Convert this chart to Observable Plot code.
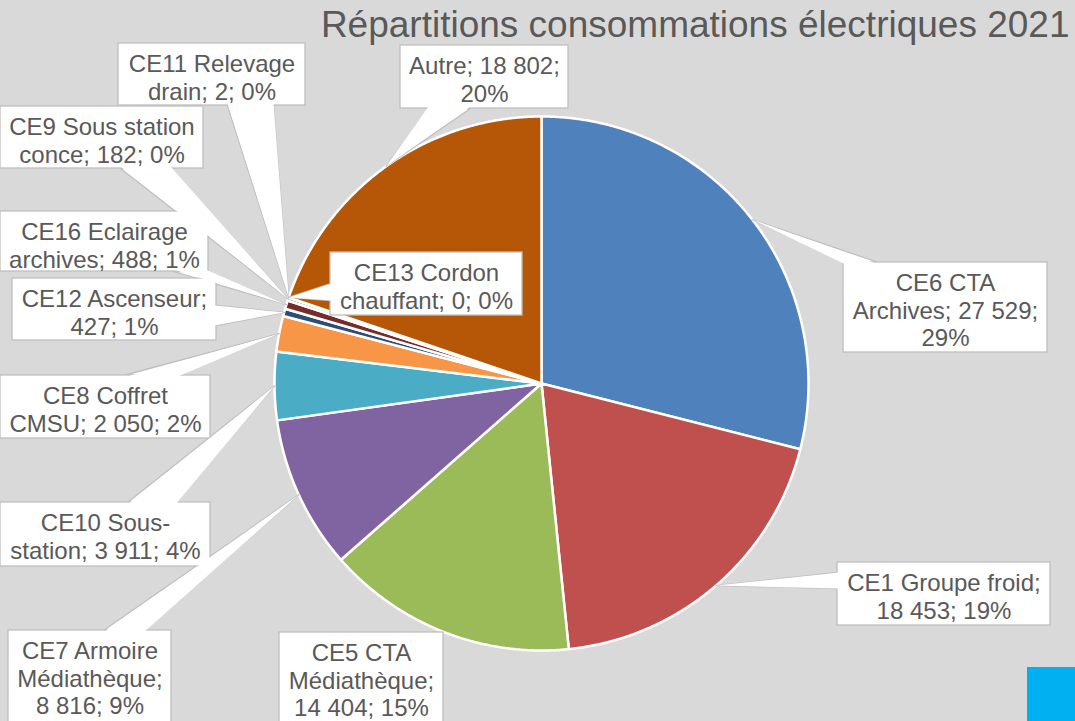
<!DOCTYPE html>
<html>
<head>
<meta charset="utf-8">
<script src="https://cdn.jsdelivr.net/npm/d3@7"></script>
<script src="https://cdn.jsdelivr.net/npm/@observablehq/plot@0.6"></script>
<style>
  html, body { margin: 0; padding: 0; background: #D9D9D9; overflow: hidden; }
  #wrap { position: relative; width: 1075px; height: 721px; }
  #corner { position: absolute; left: 1027px; top: 667px; width: 48px; height: 54px; background: #00B0F0; }
</style>
</head>
<body>
<div id="wrap"><div id="chart"></div><div id="corner"></div></div>
<script>
// ---- data ----
const title = "Répartitions consommations électriques 2021";
const categories = ["CE6 CTA Archives", "CE1 Groupe froid", "CE5 CTA Médiathèque", "CE7 Armoire Médiathèque",
  "CE10 Sous-station", "CE8 Coffret CMSU", "CE12 Ascenseur", "CE16 Eclairage archives",
  "CE9 Sous station conce", "CE11 Relevage drain", "CE13 Cordon chauffant", "Autre"];
const values = [27529, 18453, 14404, 8816, 3911, 2050, 427, 488, 182, 2, 0, 18802];
const percents = [29, 19, 15, 9, 4, 2, 1, 1, 0, 0, 0, 20];
const colors = ["#4F81BD", "#C0504D", "#9BBB59", "#8064A2", "#4BACC6", "#F79646",
  "#2C4D75", "#772C2A", "#5F7530", "#4D3B62", "#276A7C", "#B65708"];

// ---- layout (label boxes, pointer bases, wrap widths) ----
const W = 1075, H = 721;
const pie = {cx: 541, cy: 383, r: 267};
const boxes = [
  {box: [843, 262, 1047, 352], base: [[845, 262], [878, 262]], wrap: 195},
  {box: [837, 562, 1050, 625], base: [[837, 572], [837, 588]], wrap: 205},
  {box: [279, 632, 443, 740], base: null, wrap: 160},
  {box: [8, 630, 171, 740], base: [[103, 630], [143, 630]], wrap: 160},
  {box: [0, 502, 210, 566], base: [[127, 502], [175, 502]], wrap: 199},
  {box: [0, 375, 210, 438], base: [[123, 375], [175, 375]], wrap: 200},
  {box: [12, 278, 216, 340], base: [[216, 305], [216, 325]], wrap: 200},
  {box: [0, 211, 208, 271], base: [[173, 271], [205, 271]], wrap: 200},
  {box: [0, 106, 203, 168], base: [[120, 168], [170, 168]], wrap: 195},
  {box: [118, 43, 305, 105], base: [[227, 105], [273, 105]], wrap: 190},
  {box: [330, 252, 522, 315], base: [[330, 283], [330, 300]], wrap: 190},
  {box: [400, 45, 568, 108], base: [[428, 108], [470, 108]], wrap: 175}
];

// ---- helpers ----
const fmt = d3.formatLocale({decimal: ",", thousands: "\u00a0", grouping: [3], currency: ["", "€"]}).format(",d");
const FONT = "'Liberation Sans', Arial, sans-serif";
const ctx = document.createElement("canvas").getContext("2d");
ctx.font = "24px " + FONT;
function wrapText(str, width) {
  const pieces = [];
  str.split(" ").forEach(word => {
    word.split(/(?<=-)/).forEach((p, i) => pieces.push({p, space: i === 0}));
  });
  const lines = [];
  let line = "";
  for (const {p, space} of pieces) {
    const cand = line === "" ? p : line + (space ? " " : "") + p;
    if (line !== "" && ctx.measureText(cand).width > width) {
      lines.push(line);
      line = p;
    } else line = cand;
  }
  if (line) lines.push(line);
  return lines.join("\n");
}

const arcs = d3.pie().sort(null).value(d => d)(values);
const pt = a => ({x: pie.cx + pie.r * Math.sin(a), y: pie.cy - pie.r * Math.cos(a)});

// slices as closed polygons
const slicePts = [];
arcs.forEach((a, i) => {
  if (values[i] <= 0) return;
  const name = categories[i];
  slicePts.push({name, x: pie.cx, y: pie.cy});
  const n = Math.max(2, Math.ceil((a.endAngle - a.startAngle) / 0.005));
  for (let k = 0; k <= n; k++) {
    const p = pt(a.startAngle + (a.endAngle - a.startAngle) * k / n);
    slicePts.push({name, x: p.x, y: p.y});
  }
  slicePts.push({name, x: pie.cx, y: pie.cy});
});

// labels
const labels = categories.map((c, i) => {
  const b = boxes[i];
  const mid = (arcs[i].startAngle + arcs[i].endAngle) / 2;
  return {
    name: c, x1: b.box[0], y1: b.box[1], x2: b.box[2], y2: b.box[3],
    base: b.base, apex: pt(mid),
    text: wrapText(`${c}; ${fmt(values[i])}; ${percents[i]}%`, b.wrap)
  };
});

const pointerPts = [], coverPts = [];
const clamp = (v, lo, hi) => Math.max(lo, Math.min(hi, v));
labels.forEach(l => {
  if (!l.base) return;
  const poly = [[l.apex.x, l.apex.y], l.base[0], l.base[1], [l.apex.x, l.apex.y]];
  poly.forEach(([x, y]) => pointerPts.push({name: l.name, x, y}));
  const cov = [[l.apex.x, l.apex.y],
    [clamp(l.base[0][0], l.x1 + 2, l.x2 - 2), clamp(l.base[0][1], l.y1 + 2, l.y2 - 2)],
    [clamp(l.base[1][0], l.x1 + 2, l.x2 - 2), clamp(l.base[1][1], l.y1 + 2, l.y2 - 2)],
    [l.apex.x, l.apex.y]];
  cov.forEach(([x, y]) => coverPts.push({name: l.name, x, y}));
});

const chart = Plot.plot({
  width: W, height: H, margin: 0,
  x: {domain: [0, W], range: [0, W], axis: null},
  y: {domain: [0, H], range: [0, H], axis: null},
  color: {domain: categories, range: colors},
  style: {background: "#D9D9D9", fontFamily: FONT, overflow: "hidden"},
  marks: [
    Plot.line(slicePts, {x: "x", y: "y", z: "name", fill: "name", stroke: "white", strokeWidth: 2.5, strokeLinejoin: "round"}),
    Plot.line(pointerPts, {x: "x", y: "y", z: "name", fill: "white", stroke: "#BFBFBF", strokeWidth: 1.3}),
    Plot.rect(labels, {x1: "x1", x2: "x2", y1: "y1", y2: "y2", fill: "white", stroke: "#BFBFBF", strokeWidth: 1.3}),
    Plot.line(coverPts, {x: "x", y: "y", z: "name", fill: "white", stroke: "none"}),
    Plot.text(labels, {x: d => (d.x1 + d.x2) / 2, y: d => d.y1 + 9, text: "text", lineAnchor: "top",
      lineHeight: 1.15, fontSize: 24, fill: "#595959"}),
    Plot.text([title], {frameAnchor: "top-right", dx: -6, dy: 10, lineAnchor: "top", textAnchor: "end",
      fontSize: 37, fill: "#595959"})
  ]
});
document.getElementById("chart").appendChild(chart);
</script>
</body>
</html>
